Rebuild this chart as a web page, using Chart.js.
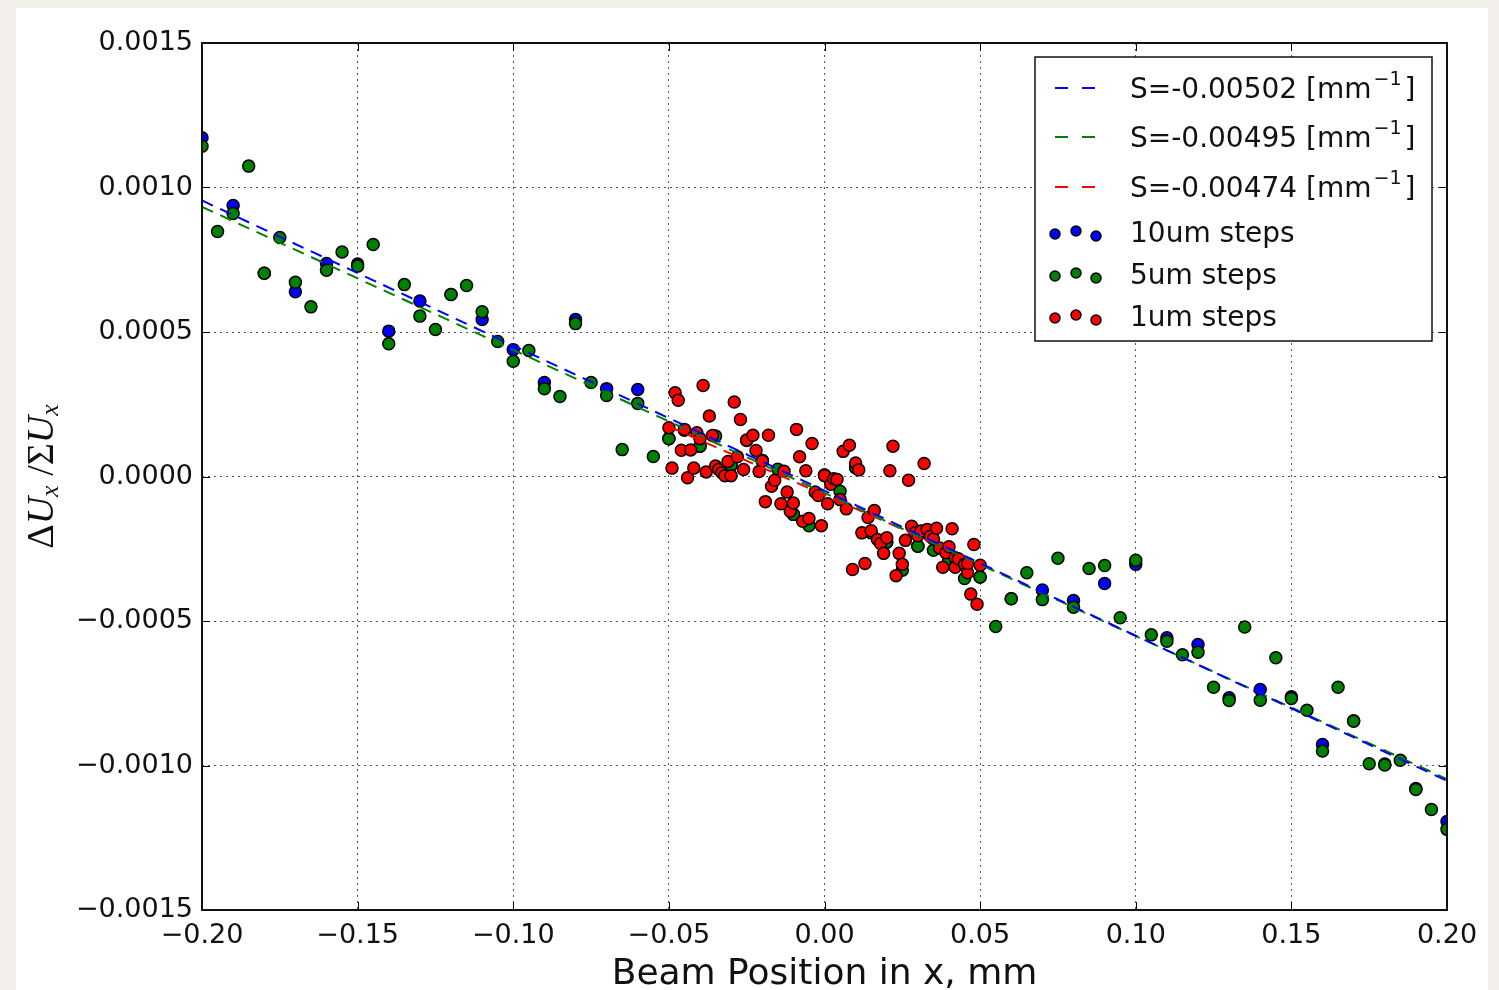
<!DOCTYPE html>
<html>
<head>
<meta charset="utf-8">
<script src="https://cdn.jsdelivr.net/npm/chart.js@4.4.0/dist/chart.umd.min.js"></script>
<style>
  html, body { margin: 0; padding: 0; background: #f2efea; }
  body { width: 1499px; height: 990px; overflow: hidden; position: relative; }
  #card { position: absolute; left: 16px; top: 8px; width: 1472px; height: 982px; background: #fff; }
  canvas { display: block; }
</style>
</head>
<body>
<div id="card"><canvas id="chart" width="1472" height="982"></canvas></div>
<script>
// measured asymmetry vs. beam position, [x mm, dU/sumU]
const steps10um = [
  [-0.20, 0.001172], [-0.19, 0.000938], [-0.18, 0.000703], [-0.17, 0.000639],
  [-0.16, 0.000737], [-0.15, 0.000735], [-0.14, 0.000503], [-0.13, 0.000607],
  [-0.12, 0.000630], [-0.11, 0.000543], [-0.10, 0.000439], [-0.09, 0.000325],
  [-0.08, 0.000543], [-0.07, 0.000304], [-0.06, 0.000301], [-0.05, 0.000131],
  [-0.04, 0.000105], [-0.03, 0.000038], [-0.02, 0.000055], [-0.01, -0.000131],
  [0.00, 0.000005], [0.01, 0.000030], [0.02, -0.000227], [0.03, -0.000241],
  [0.04, -0.000290], [0.05, -0.000348], [0.06, -0.000423], [0.07, -0.000393],
  [0.08, -0.000429], [0.09, -0.000370], [0.10, -0.000304], [0.11, -0.000558],
  [0.12, -0.000581], [0.13, -0.000766], [0.14, -0.000737], [0.15, -0.000762],
  [0.16, -0.000927], [0.17, -0.000845], [0.18, -0.000995], [0.19, -0.001080],
  [0.20, -0.001194]
];

const steps5um = [
  [-0.200, 0.001143], [-0.195, 0.000848], [-0.190, 0.000910], [-0.185, 0.001074],
  [-0.180, 0.000703], [-0.175, 0.000827], [-0.170, 0.000672], [-0.165, 0.000587],
  [-0.160, 0.000714], [-0.155, 0.000777], [-0.150, 0.000728], [-0.145, 0.000803],
  [-0.140, 0.000459], [-0.135, 0.000664], [-0.130, 0.000555], [-0.125, 0.000509],
  [-0.120, 0.000630], [-0.115, 0.000661], [-0.110, 0.000570], [-0.105, 0.000467],
  [-0.100, 0.000399], [-0.095, 0.000436], [-0.090, 0.000304], [-0.085, 0.000277],
  [-0.080, 0.000529], [-0.075, 0.000325], [-0.070, 0.000280], [-0.065, 0.000093],
  [-0.060, 0.000253], [-0.055, 0.000069], [-0.050, 0.000131], [-0.045, 0.000160],
  [-0.040, 0.000105], [-0.035, 0.000140], [-0.030, 0.000038], [-0.025, 0.000125],
  [-0.020, 0.000055], [-0.015, 0.000025], [-0.010, -0.000131], [-0.005, -0.000170],
  [0.000, 0.000005], [0.005, -0.000051], [0.010, 0.000030], [0.015, -0.000195],
  [0.020, -0.000227], [0.025, -0.000324], [0.030, -0.000241], [0.035, -0.000255],
  [0.040, -0.000290], [0.045, -0.000353], [0.050, -0.000348], [0.055, -0.000519],
  [0.060, -0.000423], [0.065, -0.000333], [0.070, -0.000426], [0.075, -0.000283],
  [0.080, -0.000452], [0.085, -0.000318], [0.090, -0.000308], [0.095, -0.000489],
  [0.100, -0.000290], [0.105, -0.000548], [0.110, -0.000570], [0.115, -0.000617],
  [0.120, -0.000608], [0.125, -0.000729], [0.130, -0.000775], [0.135, -0.000521],
  [0.140, -0.000774], [0.145, -0.000627], [0.150, -0.000768], [0.155, -0.000809],
  [0.160, -0.000950], [0.165, -0.000729], [0.170, -0.000847], [0.175, -0.000994],
  [0.180, -0.000998], [0.185, -0.000982], [0.190, -0.001083], [0.195, -0.001152],
  [0.200, -0.001221]
];

const steps1um = [
  [-0.050, 0.000169], [-0.049, 0.000029], [-0.048, 0.000290], [-0.047, 0.000264],
  [-0.046, 0.000091], [-0.045, 0.000163], [-0.044, -0.000004], [-0.043, 0.000092],
  [-0.042, 0.000029], [-0.041, 0.000151], [-0.040, 0.000131], [-0.039, 0.000315],
  [-0.038, 0.000016], [-0.037, 0.000209], [-0.036, 0.000142], [-0.035, 0.000036],
  [-0.034, 0.000024], [-0.033, 0.000013], [-0.032, 0.000003], [-0.031, 0.000052],
  [-0.030, 0.000003], [-0.029, 0.000258], [-0.028, 0.000068], [-0.027, 0.000197],
  [-0.026, 0.000024], [-0.025, 0.000126], [-0.023, 0.000143], [-0.022, 0.000090],
  [-0.021, 0.000017], [-0.020, 0.000054], [-0.019, -0.000087], [-0.018, 0.000143],
  [-0.017, -0.000034], [-0.016, -0.000013], [-0.014, -0.000094], [-0.013, 0.000018],
  [-0.012, -0.000054], [-0.011, -0.000120], [-0.010, -0.000092], [-0.009, 0.000163],
  [-0.008, 0.000068], [-0.007, -0.000155], [-0.006, 0.000020], [-0.005, -0.000145],
  [-0.004, 0.000114], [-0.003, -0.000054], [-0.002, -0.000066], [-0.001, -0.000170],
  [0.000, 0.000003], [0.001, -0.000094], [0.002, -0.000027], [0.003, -0.000008],
  [0.004, -0.000010], [0.005, -0.000080], [0.006, 0.000087], [0.007, -0.000112],
  [0.008, 0.000108], [0.009, -0.000322], [0.010, 0.000047], [0.011, 0.000023],
  [0.012, -0.000195], [0.013, -0.000301], [0.014, -0.000142], [0.015, -0.000188],
  [0.016, -0.000118], [0.017, -0.000218], [0.018, -0.000232], [0.019, -0.000266],
  [0.020, -0.000212], [0.021, 0.000020], [0.022, 0.000105], [0.023, -0.000343],
  [0.024, -0.000266], [0.025, -0.000304], [0.026, -0.000221], [0.027, -0.000013],
  [0.028, -0.000172], [0.029, -0.000195], [0.030, -0.000205], [0.031, -0.000189],
  [0.032, 0.000045], [0.033, -0.000183], [0.034, -0.000207], [0.035, -0.000216],
  [0.036, -0.000179], [0.037, -0.000247], [0.038, -0.000314], [0.039, -0.000264],
  [0.040, -0.000243], [0.041, -0.000181], [0.042, -0.000281], [0.042, -0.000314],
  [0.043, -0.000285], [0.045, -0.000304], [0.046, -0.000333], [0.046, -0.000301],
  [0.047, -0.000407], [0.048, -0.000235], [0.049, -0.000442], [0.050, -0.000307]
];

// linear fits: slope [1/mm], offset, x range
const fitSlopes = [-0.00502, -0.00495, -0.00474];
const fitOffsets = [-0.000049, -0.000057, -0.000064];
const fitRanges = [[-0.2, 0.2], [-0.2, 0.2], [-0.05, 0.05]];
const fitColors = ['#0000ff', '#008000', '#ff0000'];

const seriesNames = ['10um steps', '5um steps', '1um steps'];
const seriesColors = ['#0000ff', '#008000', '#ff0000'];

const xTicks = [-0.20, -0.15, -0.10, -0.05, 0.00, 0.05, 0.10, 0.15, 0.20];
const yTicks = [-0.0015, -0.0010, -0.0005, 0.0000, 0.0005, 0.0010, 0.0015];

const FONT = 'DejaVu Sans';
const INK = '#111';

function fmt(v, digits) {
  const s = Math.abs(v).toFixed(digits);
  return v < -1e-12 ? '\u2212' + s : s;
}

const toXY = pts => pts.map(([x, y]) => ({ x, y }));

const fitSets = fitSlopes.map((s, i) => ({
  label: 'S=' + s.toFixed(5),
  data: fitRanges[i].map(x => ({ x, y: s * x + fitOffsets[i] })),
  showLine: true,
  borderColor: fitColors[i],
  borderWidth: 2,
  borderDash: [12, 8],
  pointRadius: 0,
  fill: false,
  order: 0
}));

const pointSets = [steps10um, steps5um, steps1um].map((pts, i) => ({
  label: seriesNames[i],
  data: toXY(pts),
  backgroundColor: seriesColors[i],
  borderColor: '#000',
  borderWidth: 1.5,
  pointRadius: 6,
  order: 3 - i
}));

// frame with inward ticks on all four sides
const axesFrame = {
  id: 'axesFrame',
  afterDatasetsDraw(chart) {
    const { ctx, chartArea: a, scales } = chart;
    ctx.save();
    ctx.strokeStyle = '#000';
    ctx.lineWidth = 1;
    ctx.beginPath();
    xTicks.forEach(v => {
      const x = Math.round(scales.x.getPixelForValue(v)) + 0.5;
      ctx.moveTo(x, a.top); ctx.lineTo(x, a.top + 8);
      ctx.moveTo(x, a.bottom); ctx.lineTo(x, a.bottom - 8);
    });
    yTicks.forEach(v => {
      const y = Math.round(scales.y.getPixelForValue(v)) + 0.5;
      ctx.moveTo(a.left, y); ctx.lineTo(a.left + 8, y);
      ctx.moveTo(a.right, y); ctx.lineTo(a.right - 8, y);
    });
    ctx.stroke();
    ctx.lineWidth = 2;
    ctx.strokeStyle = '#111';
    ctx.strokeRect(a.left, a.top, a.right - a.left, a.bottom - a.top);
    ctx.restore();
  }
};

// legend box in the upper right corner
const fitLegend = {
  id: 'fitLegend',
  afterDraw(chart) {
    const { ctx, chartArea: a } = chart;
    const bw = 397, bh = 284;
    const bx = a.right - 15 - bw, by = a.top + 14;
    const rows = [33, 82, 132, 177, 219, 261];
    ctx.save();
    ctx.fillStyle = '#fff';
    ctx.fillRect(bx, by, bw, bh);
    ctx.strokeStyle = '#111';
    ctx.lineWidth = 1.5;
    ctx.strokeRect(bx, by, bw, bh);
    ctx.textBaseline = 'middle';
    ctx.fillStyle = INK;
    const tx = bx + 95;

    fitSets.forEach((ds, i) => {
      const y = by + rows[i];
      ctx.strokeStyle = ds.borderColor;
      ctx.lineWidth = 2;
      ctx.beginPath();
      ctx.moveTo(bx + 20, y - 2); ctx.lineTo(bx + 33, y - 2);
      ctx.moveTo(bx + 47, y - 2); ctx.lineTo(bx + 60, y - 2);
      ctx.stroke();
      ctx.fillStyle = INK;
      ctx.font = '28px "' + FONT + '"';
      const main = ds.label + ' [mm';
      ctx.fillText(main, tx, y + 1);
      let w = ctx.measureText(main).width + 2;
      ctx.font = '19px "' + FONT + '"';
      ctx.fillText('\u22121', tx + w, y - 10);
      w += ctx.measureText('\u22121').width + 3;
      ctx.font = '28px "' + FONT + '"';
      ctx.fillText(']', tx + w, y + 1);
    });

    const offs = [[20, 0], [41, -3], [61, 2]];
    pointSets.forEach((ds, i) => {
      const y = by + rows[3 + i];
      offs.forEach(([dx, dy]) => {
        ctx.beginPath();
        ctx.arc(bx + dx, y + dy, 5, 0, Math.PI * 2);
        ctx.fillStyle = ds.backgroundColor;
        ctx.fill();
        ctx.lineWidth = 1.5;
        ctx.strokeStyle = '#000';
        ctx.stroke();
      });
      ctx.fillStyle = INK;
      ctx.font = '28px "' + FONT + '"';
      ctx.fillText(ds.label, tx, y + 1);
    });
    ctx.restore();
  }
};

// rotated y title: ΔU_x /ΣU_x
const yTitle = {
  id: 'yTitle',
  afterDraw(chart) {
    const { ctx, chartArea: a } = chart;
    const serif = '"Liberation Serif"';
    const parts = [
      { t: '\u0394', f: '38px ' + serif, dy: 0 },
      { t: 'U', f: 'italic 38px ' + serif, dy: 0 },
      { t: 'x', f: 'italic 26px ' + serif, dy: 8 },
      { t: ' /', f: '38px ' + serif, dy: 0 },
      { t: '\u03a3', f: '38px ' + serif, dy: 0 },
      { t: 'U', f: 'italic 38px ' + serif, dy: 0 },
      { t: 'x', f: 'italic 26px ' + serif, dy: 8 }
    ];
    ctx.save();
    let total = 0;
    parts.forEach(p => { ctx.font = p.f; p.w = ctx.measureText(p.t).width; total += p.w; });
    ctx.translate(27, (a.top + a.bottom) / 2);
    ctx.rotate(-Math.PI / 2);
    ctx.fillStyle = INK;
    ctx.textBaseline = 'middle';
    let x = -total / 2;
    parts.forEach(p => {
      ctx.font = p.f;
      ctx.fillText(p.t, x, p.dy);
      x += p.w;
    });
    ctx.restore();
  }
};

const tickFont = { family: FONT, size: 27 };

new Chart(document.getElementById('chart').getContext('2d'), {
  type: 'scatter',
  data: { datasets: [...fitSets, ...pointSets] },
  options: {
    responsive: false,
    animation: false,
    events: [],
    clip: 0,
    layout: { padding: { top: 35, right: 41, left: 0, bottom: 0 } },
    plugins: { legend: { display: false }, tooltip: { enabled: false } },
    scales: {
      x: {
        type: 'linear',
        min: -0.2,
        max: 0.2,
        afterBuildTicks: s => { s.ticks = xTicks.map(v => ({ value: v })); },
        afterFit: s => { s.height = 80; },
        grid: { color: '#555', lineWidth: 1, drawTicks: false },
        border: { display: false, dash: [2, 4] },
        ticks: { padding: 10, color: INK, font: tickFont, maxRotation: 0, autoSkip: false,
                 callback: v => fmt(v, 2) },
        title: { display: true, text: 'Beam Position in x, mm', color: INK,
                 font: { family: FONT, size: 36, lineHeight: 0.8 }, padding: { top: 0, bottom: 0.6 } }
      },
      y: {
        type: 'linear',
        min: -0.0015,
        max: 0.0015,
        afterBuildTicks: s => { s.ticks = yTicks.map(v => ({ value: v })); },
        afterFit: s => { s.width = 186; },
        grid: { color: '#555', lineWidth: 1, drawTicks: false },
        border: { display: false, dash: [2, 4] },
        ticks: { padding: 9, color: INK, font: tickFont, autoSkip: false,
                 callback: v => fmt(v, 4) }
      }
    }
  },
  plugins: [axesFrame, fitLegend, yTitle]
});
</script>
</body>
</html>
